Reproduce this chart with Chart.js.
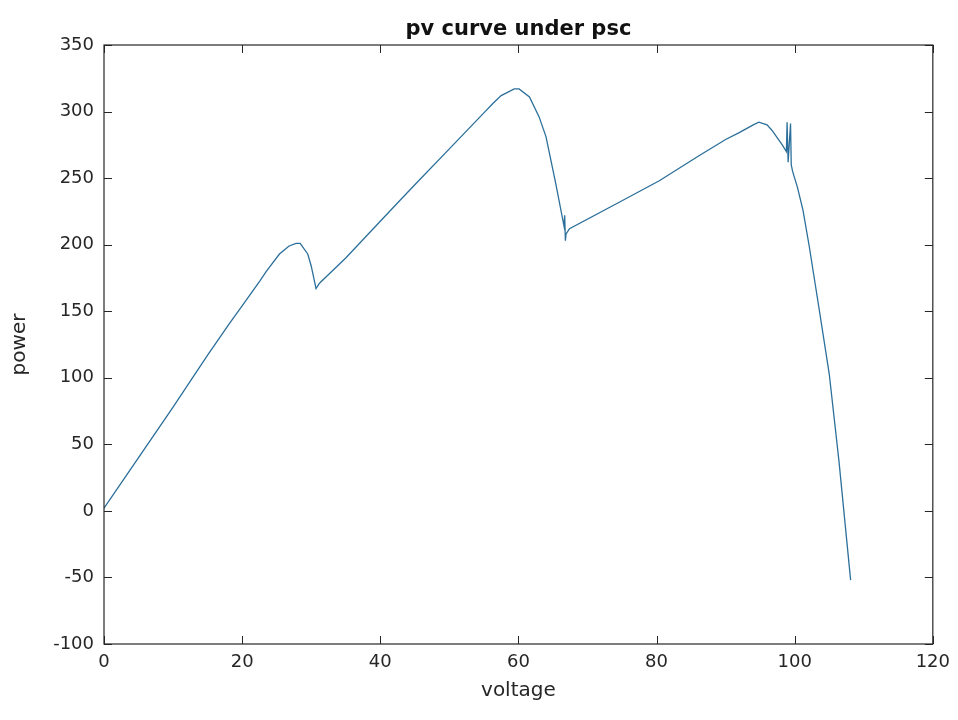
<!DOCTYPE html>
<html>
<head>
<meta charset="utf-8">
<script src="https://cdn.jsdelivr.net/npm/chart.js@4/dist/chart.umd.min.js"></script>
<style>
  html, body { margin: 0; padding: 0; background: #fff; }
  #wrap { width: 958px; height: 720px; position: relative; }
</style>
</head>
<body>
<div id="wrap"><canvas id="pvChart"></canvas></div>
<script>
// values (voltage -> power)
const voltage = [0, 5, 10, 15, 18.2, 20, 22.6, 23.5, 25.4, 26.8, 27.8, 28.4, 29.5, 30.0, 30.7, 31.2,
  35, 39.9, 42.8, 45, 50, 55, 56.3, 57.5, 59.4, 60.1, 61.6, 63, 64, 65.4, 66.6, 66.7, 66.8, 66.9, 67.4,
  75, 80.4, 86.2, 90, 91.9, 94, 94.8, 96, 96.7, 98.2, 98.8, 98.9, 99.05, 99.4, 99.5, 99.7, 100.4,
  101.2, 102.1, 103.5, 105, 106.4, 108.1];
const power = [2, 40, 78, 117, 141, 154, 173, 180, 193, 199, 201, 201, 193, 184, 167, 171,
  190, 217, 233, 245, 272, 299, 306, 312, 317, 317, 311, 296, 281, 246, 214, 222, 203, 208, 212,
  233, 248, 267, 279, 284, 290, 292, 290, 286, 275, 270, 292, 262, 291, 260, 255, 243,
  226, 199, 153, 103, 38, -52];

const xTicks = [0, 20, 40, 60, 80, 100, 120];
const yTicks = [-100, -50, 0, 50, 100, 150, 200, 250, 300, 350];
const chartTitle = 'pv curve under psc';

// MATLAB style box with inward ticks on all four sides, title centred over the axes
const boxTicks = {
  id: 'boxTicks',
  afterDraw(chart) {
    const { ctx, chartArea: a, scales: { x, y } } = chart;
    ctx.save();
    ctx.strokeStyle = '#262626';
    ctx.lineWidth = 1;
    ctx.beginPath();
    xTicks.forEach(v => {
      const px = Math.round(x.getPixelForValue(v)) + 0.5;
      ctx.moveTo(px, a.bottom); ctx.lineTo(px, a.bottom - 8);
      ctx.moveTo(px, a.top); ctx.lineTo(px, a.top + 8);
    });
    yTicks.forEach(v => {
      const py = Math.round(y.getPixelForValue(v)) + 0.5;
      ctx.moveTo(a.left, py); ctx.lineTo(a.left + 8, py);
      ctx.moveTo(a.right, py); ctx.lineTo(a.right - 8, py);
    });
    ctx.stroke();
    ctx.lineWidth = 1.2;
    ctx.strokeRect(a.left, a.top, a.right - a.left, a.bottom - a.top);

    ctx.fillStyle = '#111';
    ctx.font = 'bold 21px "DejaVu Sans"';
    ctx.textAlign = 'center';
    ctx.textBaseline = 'middle';
    ctx.fillText(chartTitle, (a.left + a.right) / 2, 30);
    ctx.restore();
  }
};

const tickFont = { family: 'DejaVu Sans', size: 18 };
const labelFont = { family: 'DejaVu Sans', size: 20 };

const ctx = document.getElementById('pvChart');
new Chart(ctx, {
  type: 'scatter',
  data: {
    datasets: [{
      data: voltage.map((v, i) => ({ x: v, y: power[i] })),
      showLine: true,
      borderColor: '#2b6f9a',
      borderWidth: 1.3,
      pointRadius: 0,
      tension: 0
    }]
  },
  options: {
    responsive: true,
    maintainAspectRatio: false,
    animation: false,
    layout: { padding: { left: 0, right: 22, top: 45, bottom: 0 } },
    scales: {
      x: {
        type: 'linear',
        min: 0, max: 120,
        afterBuildTicks: s => { s.ticks = xTicks.map(v => ({ value: v })); },
        afterFit: s => { s.height = 76; },
        grid: { display: false, drawTicks: false },
        border: { display: false },
        ticks: { color: '#262626', padding: 8, font: tickFont },
        title: { display: true, text: 'voltage', color: '#262626', padding: { top: 4, bottom: 17 }, font: labelFont }
      },
      y: {
        type: 'linear',
        min: -100, max: 350,
        afterBuildTicks: s => { s.ticks = yTicks.map(v => ({ value: v })); },
        afterFit: s => { s.width = 104; },
        grid: { display: false, drawTicks: false },
        border: { display: false },
        ticks: { color: '#262626', padding: 10, font: tickFont },
        title: { display: true, text: 'power', color: '#262626', padding: { top: 8, bottom: 0 }, font: labelFont }
      }
    },
    plugins: {
      legend: { display: false },
      tooltip: { enabled: false },
      title: { display: false }
    }
  },
  plugins: [boxTicks]
});
</script>
</body>
</html>
